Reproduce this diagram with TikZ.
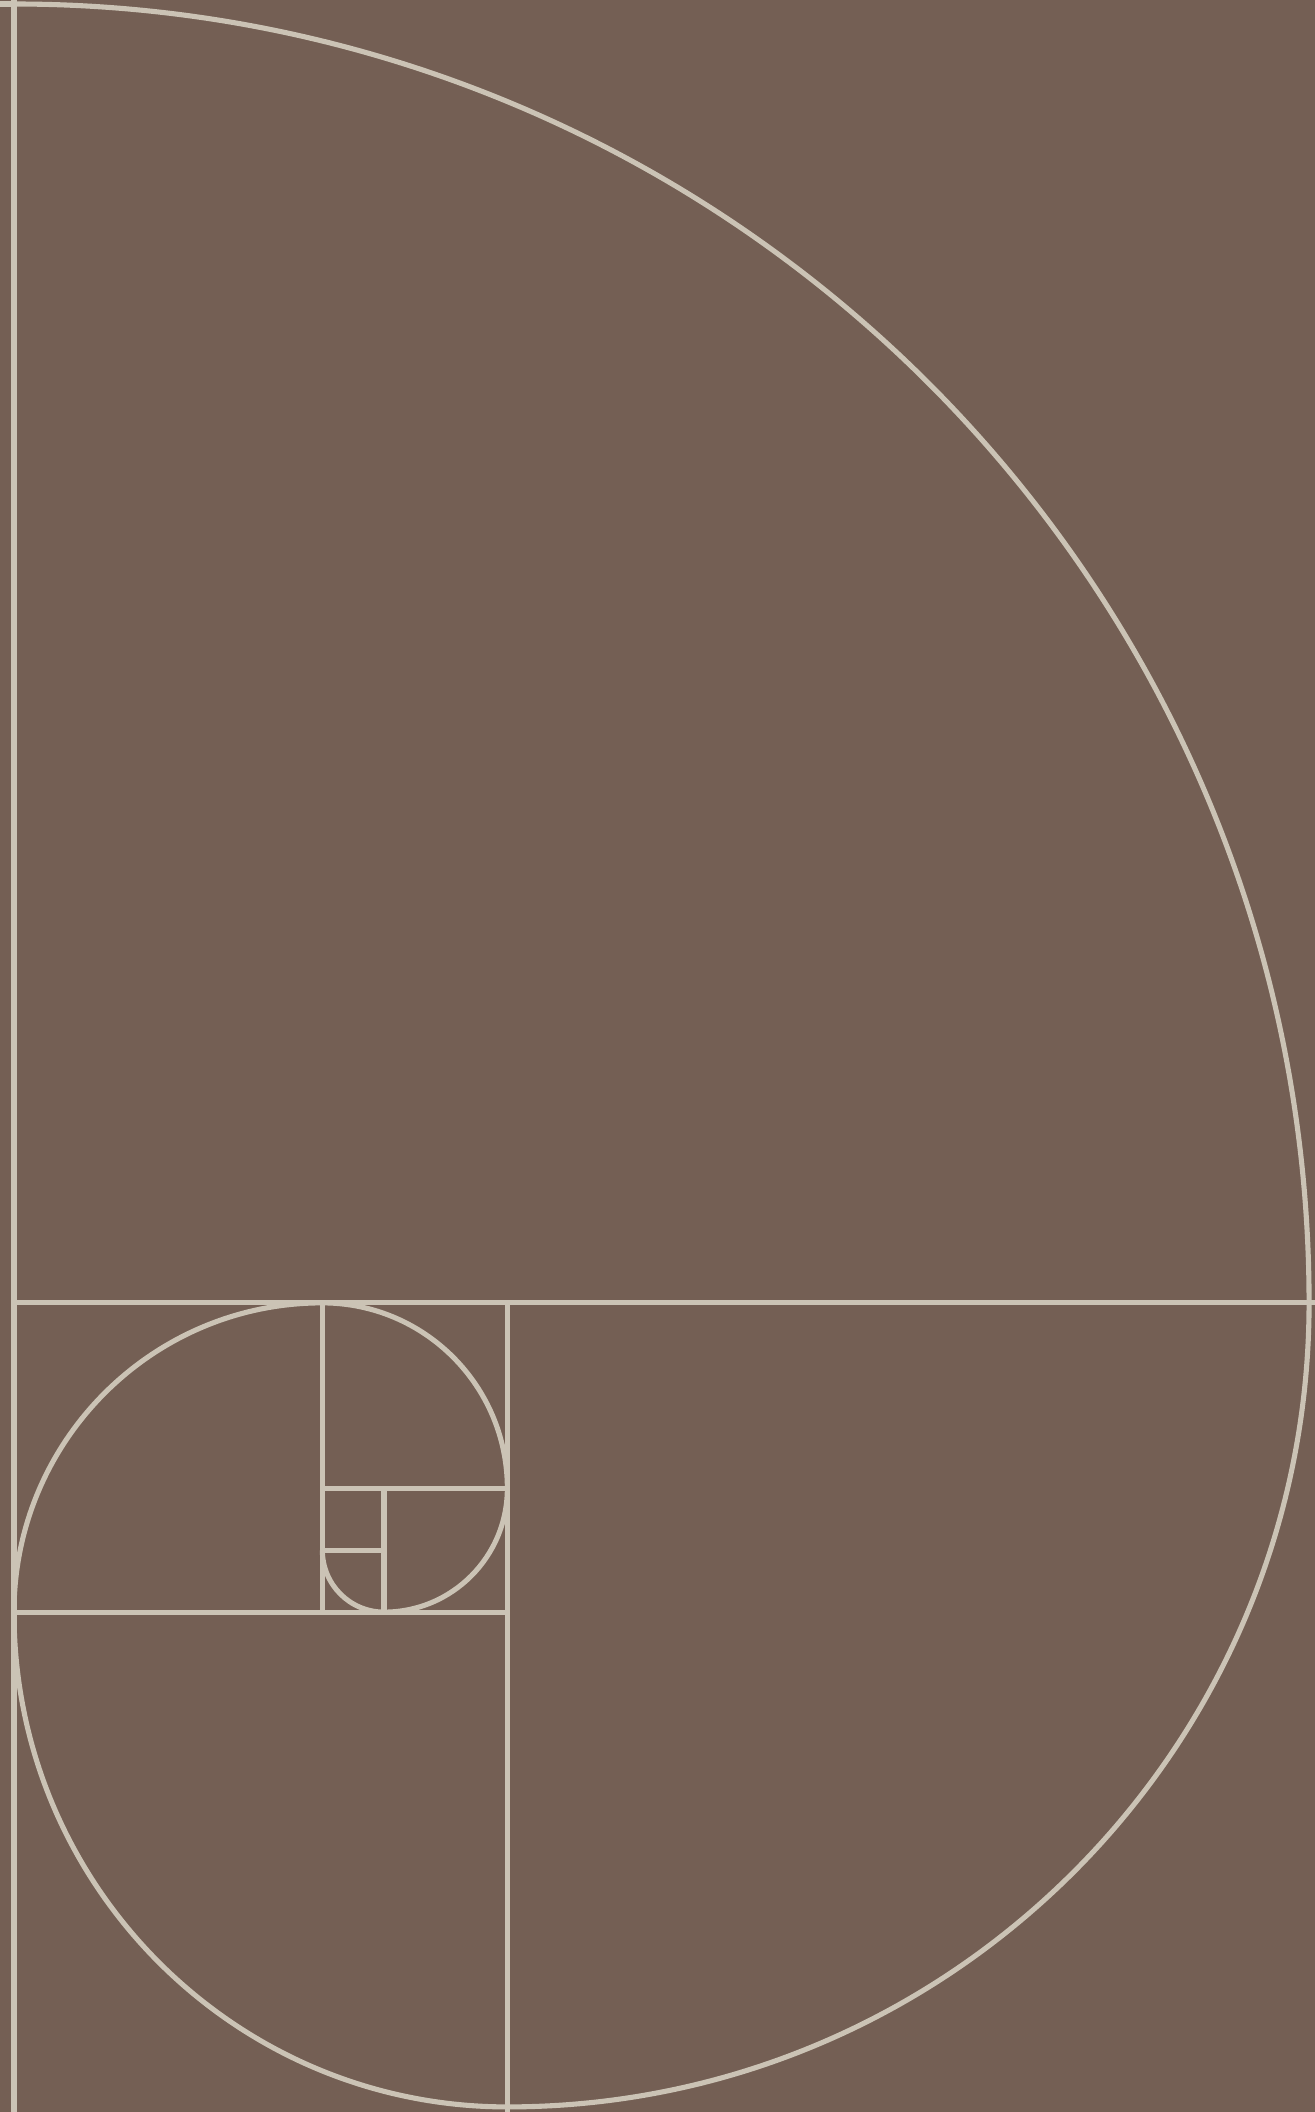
\documentclass[tikz,border=0pt]{standalone}
\usepackage{xcolor}
\usepackage{tikz}
\usetikzlibrary{calc}
\definecolor{bgbrown}{RGB}{116,95,84}
\definecolor{sand}{RGB}{203,195,181}
\tikzset{
  guide/.style={draw=sand, line width=2.9pt},
  spiral/.style={draw=sand, line width=2.9pt, line join=round},
}

\begin{document}
\begin{tikzpicture}[x=1.2334cm, y=1.237cm]

  % page frame
  \clip (-0.227,-0.082) rectangle (21.096,34.065);
  \fill[bgbrown] (-1,-1) rectangle (22,35);

  % square corners
  \coordinate (tl) at (0,34);
  \coordinate (ml) at (0,13);
  \coordinate (mr) at (21,13);
  \coordinate (bl) at (0,0);
  \coordinate (b8) at (8,0);

  % squares 21, 13, 8, 5, 3, 2, 1, 1
  \draw[guide] (0,-0.3) -- (0,34.3);
  \draw[guide] (-0.4,34) -- (tl);
  \draw[guide] (ml) -- (21.2,13);
  \draw[guide] (8,13) -- (8,-0.3);
  \draw[guide] (0,8) -- (8,8);
  \draw[guide] (5,13) -- (5,8);
  \draw[guide] (5,10) -- (8,10);
  \draw[guide] (6,10) -- (6,8);
  \draw[guide] (5,9) -- (6,9);

  % golden spiral
  \draw[spiral] (tl) arc (90:0:21) arc (0:-90:13) arc (-90:-180:8)
    arc (180:90:5) arc (90:0:3) arc (0:-90:2) arc (-90:-180:1);

\end{tikzpicture}
\end{document}
